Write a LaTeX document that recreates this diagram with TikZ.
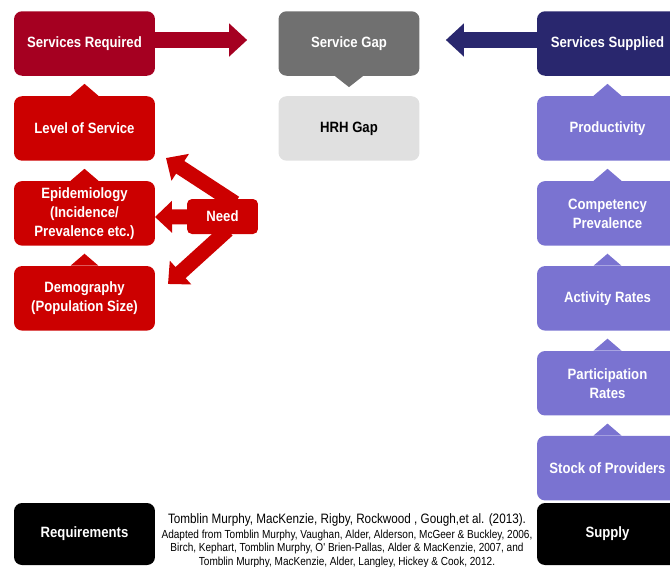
\documentclass[tikz,border=0pt]{standalone}
\usepackage{fontspec}
\setmainfont{Liberation Sans}[FakeStretch=0.88]
\newfontfamily\citefont{Liberation Sans}[FakeStretch=0.86]
\usetikzlibrary{arrows.meta}
\usetikzlibrary{positioning}
\definecolor{reqred}{HTML}{A50021}
\definecolor{needred}{HTML}{CC0000}
\definecolor{gapgray}{HTML}{707070}
\definecolor{hrhgray}{HTML}{E0E0E0}
\definecolor{supnavy}{HTML}{29276E}
\definecolor{suppurple}{HTML}{7A73D1}

\begin{document}
\begin{tikzpicture}[x=0.02cm,y=-0.02cm,node distance=0.395cm,
  box/.style={rectangle,rounded corners=0.16cm,minimum width=2.82cm,minimum height=1.29cm,
    align=center,text=white,inner sep=2pt,font=\bfseries\fontsize{8.5}{10.8}\selectfont},
  bigarrow/.style={line width=0.32cm,-{Triangle[width=0.64cm,length=0.36cm]}},
  needarrow/.style={line width=0.3cm,-{Triangle[width=0.62cm,length=0.34cm]}}]
  \useasboundingbox (0,0) rectangle (670,566);
  \clip (0,0) rectangle (670,566);

  % requirements side
  \node[box,fill=reqred] (sreq) at (84.5,43.5) {Services Required};
  \node[box,fill=needred,below=of sreq] (lev) {Level of Service};
  \node[box,fill=needred,below=of lev] (epi) {Epidemiology\\(Incidence/\\Prevalence etc.)};
  \node[box,fill=needred,below=of epi] (demo) {Demography\\(Population Size)};

  % gap
  \node[box,fill=gapgray] (gap) at (349,43.5) {Service Gap};
  \node[box,fill=hrhgray,text=black,below=of gap] (hrh) {HRH Gap};

  % supply side
  \node[box,fill=supnavy] (ssup) at (607.5,43.5) {Services Supplied};
  \node[box,fill=suppurple,below=of ssup] (prod) {Productivity};
  \node[box,fill=suppurple,below=of prod] (comp) {Competency\\Prevalence};
  \node[box,fill=suppurple,below=of comp] (act) {Activity Rates};
  \node[box,fill=suppurple,below=of act] (part) {Participation\\Rates};
  \node[box,fill=suppurple,below=of part] (stock) {Stock of Providers};

  \node[box,fill=black,minimum height=1.24cm] (reqs) at (84.5,534) {Requirements};
  \node[box,fill=black,minimum height=1.24cm] (supply) at (607.5,534) {Supply};

  \foreach \n/\c in {lev/needred,epi/needred,demo/needred,prod/suppurple,comp/suppurple,act/suppurple,part/suppurple,stock/suppurple}
    \fill[\c] ([xshift=-0.28cm]\n.north) -- ([yshift=0.24cm]\n.north) -- ([xshift=0.28cm]\n.north) -- cycle;
  \fill[gapgray] ([xshift=-0.28cm]gap.south) -- ([yshift=-0.22cm]gap.south) -- ([xshift=0.28cm]gap.south) -- cycle;

  \draw[bigarrow,reqred] ([yshift=0.07cm]sreq.east) -- ([xshift=-0.62cm,yshift=0.07cm]gap.west);
  \draw[bigarrow,supnavy] ([yshift=0.07cm]ssup.west) -- ([xshift=0.52cm,yshift=0.07cm]gap.east);

  % need
  \coordinate (needc) at (222.5,216.5);
  \coordinate (needup) at (166,158);
  \coordinate (needleft) at (155,217);
  \coordinate (needdown) at (168,284);
  \draw[needarrow,needred] ([xshift=0.25cm,yshift=0.27cm]needc) -- (needup);
  \draw[needarrow,needred] (needc) -- (needleft);
  \draw[needarrow,needred] ([xshift=0.1cm,yshift=-0.27cm]needc) -- (needdown);
  \node[box,fill=needred,minimum width=1.42cm,minimum height=0.7cm,rounded corners=0.1cm] (need) at (needc) {Need};

  \node[anchor=north,inner sep=0pt,align=center,font=\citefont\fontsize{6.65}{7.6}\selectfont] (cite) at (347,513)
    {{\fontsize{7.75}{9}\selectfont Tomblin Murphy, MacKenzie, Rigby, Rockwood , Gough,et al. (2013).}\\[1pt]
     Adapted from Tomblin Murphy, Vaughan, Alder, Alderson, McGeer \& Buckley, 2006,\\
     Birch, Kephart, Tomblin Murphy, O' Brien-Pallas, Alder \& MacKenzie, 2007, and\\
     Tomblin Murphy, MacKenzie, Alder, Langley, Hickey \& Cook, 2012.};
\end{tikzpicture}
\end{document}
